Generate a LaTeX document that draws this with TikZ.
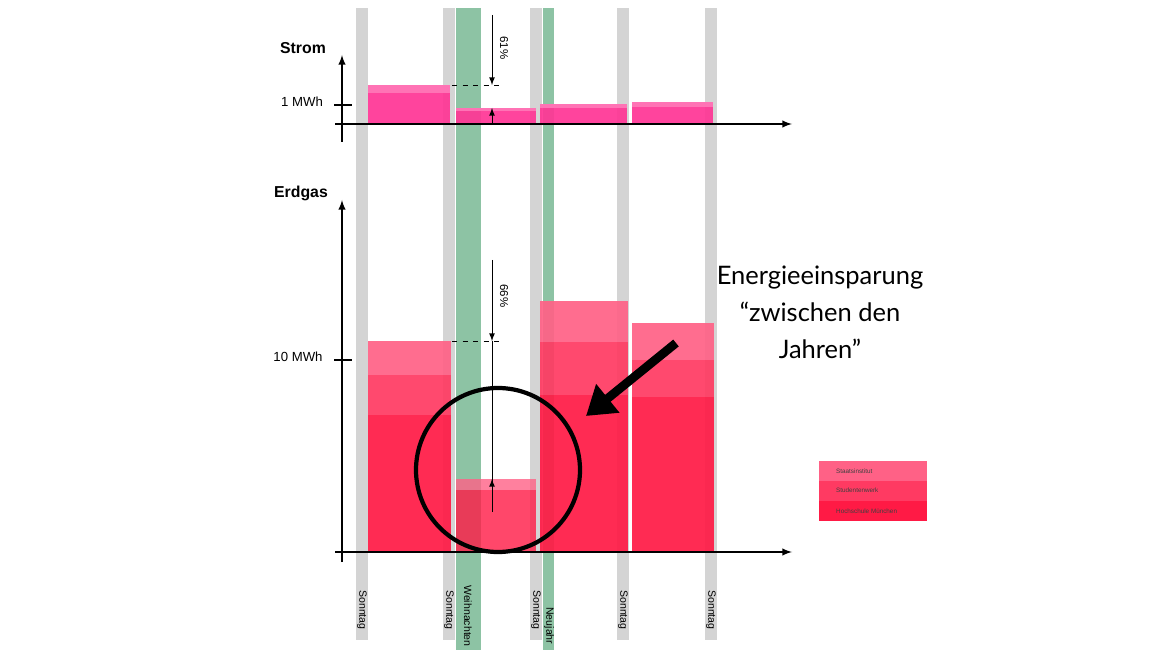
\documentclass[tikz,border=0pt]{standalone}
\usetikzlibrary{arrows.meta}
\usepackage{fontspec}
\setmainfont{Liberation Sans}
\newfontfamily\bigf{Lato}
\begin{document}
\begin{tikzpicture}[x=0.02cm,y=-0.02cm,
  sun/.style={fill=black!17,draw=none},
  lt/.style={fill=c1,draw=none,opacity=0.92},
  md/.style={fill=c2,draw=none,opacity=0.92},
  dk/.style={fill=c3,draw=none,opacity=0.92},
  sl/.style={fill=s1,draw=none,opacity=0.92},
  sd/.style={fill=s2,draw=none,opacity=0.92},
  ax/.style={draw=black,line width=0.9pt,-latex},
  lab/.style={font=\fontsize{6}{7}\selectfont,rotate=-90,anchor=west,inner sep=0pt},
  pct/.style={font=\fontsize{6.5}{7}\selectfont,rotate=-90,inner sep=0pt}]
\definecolor{c1}{HTML}{FF6186}
\definecolor{c2}{HTML}{FF3A62}
\definecolor{c3}{HTML}{FF1A45}
\definecolor{s1}{HTML}{FF78B8}
\definecolor{s2}{HTML}{FF3595}
\definecolor{hg}{HTML}{8DC3A4}
\useasboundingbox (0,0) rectangle (1170,658);
\fill[white] (0,0) rectangle (1170,658);
% sunday bars
\foreach \x in {362,449,536,623,711} \fill[sun] (\x-6,8) rectangle (\x+6,640);
\fill[hg] (456,8) rectangle (481,650);
\fill[hg] (543,8) rectangle (554,650);
% Strom bars
\fill[sd] (368,85) rectangle (450,124); \fill[sl] (368,85) rectangle (450,93);
\fill[sd] (456,108) rectangle (536,124); \fill[sl] (456,108) rectangle (536,111);
\fill[sd] (540,104) rectangle (627,124); \fill[sl] (540,104) rectangle (627,108);
\fill[sd] (632,102) rectangle (713,124); \fill[sl] (632,102) rectangle (713,107);
% Erdgas bars
\fill[dk] (368,415) rectangle (451,552); \fill[md] (368,375) rectangle (451,415); \fill[lt] (368,341) rectangle (451,375);
\fill[dk,opacity=0.8] (456,490) rectangle (536,552); \fill[lt,opacity=0.8] (456,479) rectangle (536,490);
\fill[dk] (540,395) rectangle (628,552); \fill[md] (540,342) rectangle (628,395); \fill[lt] (540,301) rectangle (628,342);
\fill[dk] (632,397) rectangle (714,552); \fill[md] (632,360) rectangle (714,397); \fill[lt] (632,323) rectangle (714,360);
% axes Strom
\coordinate (sy0) at (342,142); \coordinate (sy1) at (342,55);
\coordinate (sx0) at (335,124); \coordinate (sx1) at (792,124);
\draw[ax] (sy0) -- (sy1);
\draw[ax] (sx0) -- (sx1);
\draw[line width=0.8pt] (334,105) -- (352,105);
\node[font=\bfseries\fontsize{9}{10}\selectfont] (strom) at (303,48) {Strom};
\node[font=\fontsize{7.5}{8}\selectfont] (mwh1) at (302,102) {1 MWh};
% axes Erdgas
\coordinate (ey0) at (342,562); \coordinate (ey1) at (342,200);
\coordinate (ex0) at (335,552); \coordinate (ex1) at (792,552);
\draw[ax] (ey0) -- (ey1);
\draw[ax] (ex0) -- (ex1);
\draw[line width=0.8pt] (334,360) -- (352,360);
\node[font=\bfseries\fontsize{9}{10}\selectfont] (erdgas) at (301,193) {Erdgas};
\node[font=\fontsize{7.5}{8}\selectfont] (mwh10) at (298,357) {10 MWh};
% percentage markers
\draw[dashed,line width=0.5pt] (452,85) -- (503,85);
\coordinate (a1) at (492,15); \coordinate (a2) at (492,85);
\coordinate (a3) at (492,124); \coordinate (a4) at (492,108);
\draw[line width=0.5pt,-latex] (a1) -- (a2);
\draw[line width=0.5pt,-latex] (a3) -- (a4);
\node[pct] (p61) at (504,48) {61\%};
\draw[dashed,line width=0.5pt] (452,341) -- (503,341);
\coordinate (b1) at (492,260); \coordinate (b2) at (492,341);
\coordinate (b3) at (492,512); \coordinate (b4) at (492,479);
\draw[line width=0.5pt,-latex] (b1) -- (b2);
\draw[line width=0.5pt] (b2) -- (b3);
\draw[line width=0.5pt,-latex] (b3) -- (b4);
\node[pct] (p66) at (504,296) {66\%};
% circle and arrow
\draw[line width=2.4pt] (498,470) circle [x radius=82, y radius=82];
\coordinate (ar0) at (676,343); \coordinate (ar1) at (586,416);
\draw[line width=5pt,-{Triangle[length=16pt,width=20pt]}] (ar0) -- (ar1);
\node[font=\bigf\fontsize{14.5}{21}\selectfont,align=center] (txt) at (820,312) {Energieeinsparung\\“zwischen den\\Jahren”};
% legend
\fill[c1] (819,461) rectangle (927,481);
\fill[c2] (819,481) rectangle (927,501);
\fill[c3] (819,501) rectangle (927,521);
\node[font=\fontsize{3.6}{4}\selectfont,anchor=west,text=black!75] (l1) at (830,471) {Staatsinstitut};
\node[font=\fontsize{3.6}{4}\selectfont,anchor=west,text=black!75] (l2) at (830,490) {Studentenwerk};
\node[font=\fontsize{3.6}{4}\selectfont,anchor=west,text=black!75] (l3) at (830,511) {Hochschule München};
% bottom labels
\node[lab] (d1) at (362,590) {Sonntag};
\node[lab] (d2) at (449,590) {Sonntag};
\node[lab] (d3) at (536,590) {Sonntag};
\node[lab] (d4) at (623,590) {Sonntag};
\node[lab] (d5) at (711,590) {Sonntag};
\node[lab] (w) at (468,585) {Weihnachten};
\node[lab] (n) at (549,607) {Neujahr};
\end{tikzpicture}
\end{document}
